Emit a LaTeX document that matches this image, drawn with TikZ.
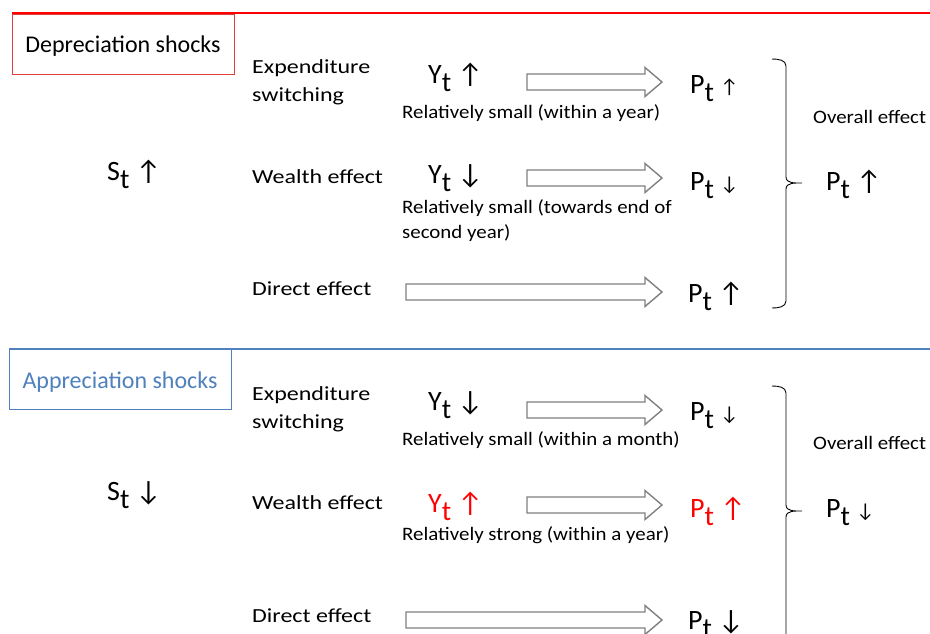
\documentclass[tikz,border=0pt]{standalone}
\usepackage{fontspec}
\setmainfont{Carlito}
\newfontfamily\labelfont[FakeStretch=1.2]{Carlito}
\newfontfamily\notefont[FakeStretch=1.1]{Carlito}
\usetikzlibrary{calc}

\definecolor{deprered}{HTML}{FF0000}
\definecolor{boxred}{HTML}{E0403A}
\definecolor{apprblue}{HTML}{4F81BD}
\definecolor{arrowgray}{HTML}{808080}

% lowered full-size subscript, as in Y_t and P_t
\newcommand{\lowsub}[1]{\raisebox{-0.3em}{#1}}
\newcommand{\bigup}{{\fontsize{28}{30}\selectfont ↑}}
\newcommand{\bigdown}{{\fontsize{28}{30}\selectfont ↓}}
\newcommand{\smallup}{{\fontsize{20}{22}\selectfont ↑}}
\newcommand{\smalldown}{{\fontsize{20}{22}\selectfont ↓}}

% hollow block arrow from one named point to another
\newcommand{\blockarrow}[2]{%
  \draw[fatarrow] ($(#1)+(0,-8)$) -- ($(#2)+(-17,-8)$) -- ($(#2)+(-17,-14.5)$)
    -- (#2) -- ($(#2)+(-17,14.5)$) -- ($(#2)+(-17,8)$) -- ($(#1)+(0,8)$) -- cycle;}

\tikzset{
  headtext/.style={anchor=base, inner sep=0pt, font=\fontsize{24}{27}\selectfont},
  lbl/.style={anchor=base west, inner sep=0pt, font=\labelfont\fontsize{20}{23}\selectfont},
  note/.style={anchor=base west, inner sep=0pt, font=\notefont\fontsize{19}{22}\selectfont},
  sym/.style={anchor=base west, inner sep=0pt, font=\fontsize{28}{30}\selectfont},
  fatarrow/.style={draw=arrowgray, line width=1.4pt, fill=white, line join=miter},
  brace/.style={draw=black, line width=0.9pt},
}

\begin{document}
\begin{tikzpicture}[x=1pt, y=-1pt]
\useasboundingbox (0,0) rectangle (930,633);
\fill[white] (0,0) rectangle (930,633);

% ---------------- depreciation shocks ----------------
\draw[deprered, line width=2pt] (12,13) -- (930,13);
\node[draw=boxred, line width=0.8pt, minimum width=222pt, minimum height=60pt,
      anchor=north west, inner sep=0pt] (depbox) at (12,14) {};
\node[headtext] (deptitle) at (123,52) {Depreciation shocks};

\node[sym] (dS) at (107,180) {S\lowsub{t} \bigup};

\node[lbl] (dexp1) at (252,73) {Expenditure};
\node[lbl] (dexp2) at (252,101) {switching};
\node[lbl] (dwea) at (252,183) {Wealth effect};
\node[lbl] (ddir) at (252,295) {Direct effect};

\node[sym] (dY1) at (428,83) {Y\lowsub{t} \bigup};
\node[sym] (dY2) at (428,183) {Y\lowsub{t} \bigdown};

\node[note] (dn1) at (402,118) {Relatively small (within a year)};
\node[note] (dn2) at (402,213) {Relatively small (towards end of};
\node[note] (dn3) at (402,238) {second year)};

\node[sym] (dP1) at (690,93) {P\lowsub{t} \smallup};
\node[sym] (dP2) at (690,190) {P\lowsub{t} \smalldown};
\node[sym] (dP3) at (688,302) {P\lowsub{t} \bigup};

\coordinate (da1s) at (527,82);  \coordinate (da1e) at (662,82);
\coordinate (da2s) at (527,178); \coordinate (da2e) at (662,178);
\coordinate (da3s) at (406,292); \coordinate (da3e) at (662,292);
\blockarrow{da1s}{da1e}
\blockarrow{da2s}{da2e}
\blockarrow{da3s}{da3e}

\coordinate (dbtop) at (772,59);
\coordinate (dbmid) at (802,183);
\coordinate (dbbot) at (772,308);
\draw[brace] (dbtop) to[out=0, in=90] (786,66) -- (786,177)
  to[out=-90, in=180] (dbmid) to[out=180, in=90] (786,189) -- (786,301)
  to[out=-90, in=0] (dbbot);

\node[note] (dover) at (813,123) {Overall effect};
\node[sym] (dPo) at (826,190) {P\lowsub{t} \bigup};

% ---------------- appreciation shocks ----------------
\draw[apprblue, line width=1.6pt] (9,349) -- (930,349);
\node[draw=apprblue, line width=0.8pt, minimum width=222pt, minimum height=60pt,
      anchor=north west, inner sep=0pt] (appbox) at (9,349) {};
\node[headtext, text=apprblue] (apptitle) at (120,388) {Appreciation shocks};

\node[sym] (aS) at (107,500) {S\lowsub{t} \bigdown};

\node[lbl] (aexp1) at (252,400) {Expenditure};
\node[lbl] (aexp2) at (252,428) {switching};
\node[lbl] (awea) at (252,509) {Wealth effect};
\node[lbl] (adir) at (252,622) {Direct effect};

\node[sym] (aY1) at (428,410) {Y\lowsub{t} \bigdown};
\node[sym, text=deprered] (aY2) at (428,512) {Y\lowsub{t} \bigup};

\node[note] (an1) at (402,445) {Relatively small (within a month)};
\node[note] (an2) at (402,540) {Relatively strong (within a year)};

\node[sym] (aP1) at (690,420) {P\lowsub{t} \smalldown};
\node[sym, text=deprered] (aP2) at (690,517) {P\lowsub{t} \bigup};
\node[sym] (aP3) at (688,629) {P\lowsub{t} \bigdown};

\coordinate (aa1s) at (527,410); \coordinate (aa1e) at (662,410);
\coordinate (aa2s) at (527,505); \coordinate (aa2e) at (662,505);
\coordinate (aa3s) at (406,620); \coordinate (aa3e) at (662,620);
\blockarrow{aa1s}{aa1e}
\blockarrow{aa2s}{aa2e}
\blockarrow{aa3s}{aa3e}

\coordinate (abtop) at (772,386);
\coordinate (abmid) at (802,511);
\coordinate (abbot) at (786,640);
\draw[brace] (abtop) to[out=0, in=90] (786,393) -- (786,505)
  to[out=-90, in=180] (abmid) to[out=180, in=90] (786,517) -- (abbot);

\node[note] (aover) at (813,449) {Overall effect};
\node[sym] (aPo) at (826,517) {P\lowsub{t} \smalldown};
\end{tikzpicture}
\end{document}
